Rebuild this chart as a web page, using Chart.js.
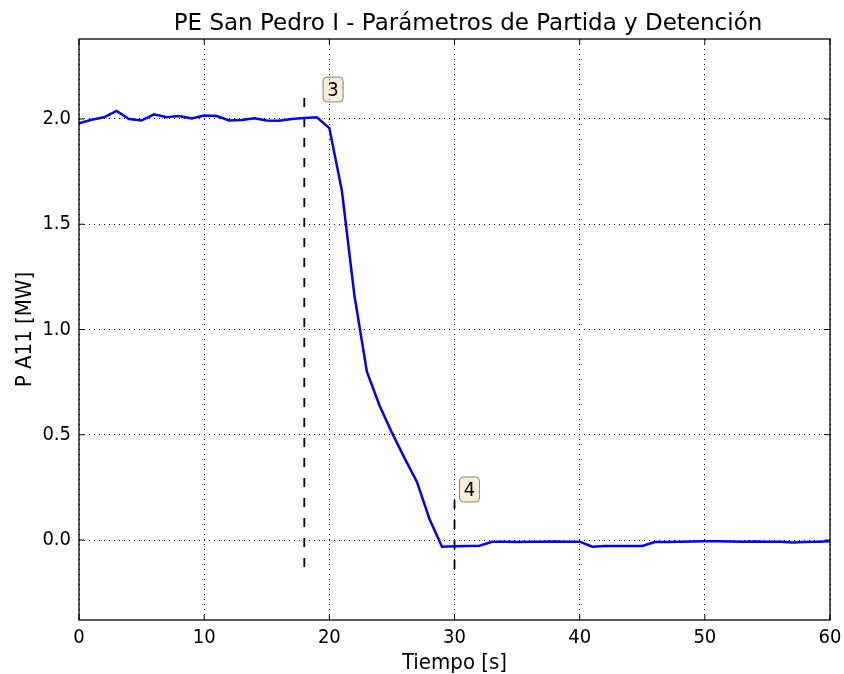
<!DOCTYPE html>
<html>
<head>
<meta charset="utf-8">
<script src="https://cdn.jsdelivr.net/npm/chart.js@4.4.0/dist/chart.umd.min.js"></script>
<style>
  html, body { margin: 0; padding: 0; background: #fff; }
  #wrap { width: 844px; height: 674px; }
</style>
</head>
<body>
<div id="wrap"><canvas id="chart" width="844" height="674"></canvas></div>
<script>
// time in seconds and active power P A11 [MW]
const tiempo = [];
for (let t = 0; t <= 60; t++) tiempo.push(t);
const potencia = [
  1.980, 1.996, 2.008, 2.038, 2.000, 1.993, 2.022, 2.008, 2.014, 2.003,
  2.017, 2.014, 1.993, 1.995, 2.003, 1.993, 1.992, 2.000, 2.005, 2.008,
  1.957, 1.660, 1.164, 0.800, 0.640, 0.510, 0.390, 0.276, 0.100, -0.032,
  -0.030, -0.028, -0.027, -0.008, -0.008, -0.009, -0.008, -0.008, -0.007, -0.008,
  -0.008, -0.032, -0.029, -0.029, -0.028, -0.028, -0.010, -0.009, -0.008, -0.007,
  -0.006, -0.006, -0.007, -0.008, -0.007, -0.008, -0.008, -0.012, -0.010, -0.008,
  -0.006
];

// event markers: vertical dashed lines and their numbered labels
const eventos = ['3', '4'];
const eventoX = [18, 30];
const eventoYTop = [2.10, 0.19];
const eventoYBottom = [-0.15, -0.15];
const etiquetaX = [20.3, 31.2];
const etiquetaY = [2.14, 0.24];

const xTicks = [0, 10, 20, 30, 40, 50, 60];
const yTicks = [0.0, 0.5, 1.0, 1.5, 2.0];
const yMin = -0.38, yMax = 2.38;

const titulo = 'PE San Pedro I - Parámetros de Partida y Detención';

const FONT = '"DejaVu Sans Condensed", "DejaVu Sans", sans-serif';
const TITLE_FONT = '"DejaVu Sans", sans-serif';

const datasets = [{
  label: 'P A11',
  data: tiempo.map((t, i) => ({ x: t, y: potencia[i] })),
  borderColor: '#0000ff',
  borderWidth: 2.5,
  pointRadius: 0,
  tension: 0,
  order: 1
}];
eventos.forEach((ev, i) => {
  datasets.push({
    label: 'evento ' + ev,
    data: [{ x: eventoX[i], y: eventoYTop[i] }, { x: eventoX[i], y: eventoYBottom[i] }],
    borderColor: '#000000',
    borderWidth: 1.8,
    borderDash: [9, 11],
    pointRadius: 0,
    order: 2
  });
});

// frame around the plot area, inward ticks and the title
const framePlugin = {
  id: 'frame',
  afterDraw(chart) {
    const a = chart.chartArea, ctx = chart.ctx;
    ctx.save();
    ctx.strokeStyle = '#000';
    ctx.lineWidth = 1.3;
    ctx.strokeRect(a.left, a.top, a.right - a.left, a.bottom - a.top);
    ctx.lineWidth = 1;
    const xs = chart.scales.x, ys = chart.scales.y;
    xTicks.forEach(v => {
      const px = xs.getPixelForValue(v);
      ctx.beginPath();
      ctx.moveTo(px, a.bottom); ctx.lineTo(px, a.bottom - 5);
      ctx.moveTo(px, a.top); ctx.lineTo(px, a.top + 5);
      ctx.stroke();
    });
    yTicks.forEach(v => {
      const py = ys.getPixelForValue(v);
      ctx.beginPath();
      ctx.moveTo(a.left, py); ctx.lineTo(a.left + 5, py);
      ctx.moveTo(a.right, py); ctx.lineTo(a.right - 5, py);
      ctx.stroke();
    });
    ctx.fillStyle = '#000';
    ctx.font = '23px ' + TITLE_FONT;
    ctx.textAlign = 'center';
    ctx.textBaseline = 'alphabetic';
    ctx.fillText(titulo, 468, 30);
    ctx.restore();
  }
};

// rounded wheat boxes with the event numbers
const labelPlugin = {
  id: 'eventLabels',
  afterDraw(chart) {
    const ctx = chart.ctx, xs = chart.scales.x, ys = chart.scales.y;
    ctx.save();
    ctx.font = '20px ' + FONT;
    ctx.textAlign = 'center';
    ctx.textBaseline = 'middle';
    eventos.forEach((ev, i) => {
      const cx = xs.getPixelForValue(etiquetaX[i]);
      const cy = ys.getPixelForValue(etiquetaY[i]);
      const w = 20, h = 25;
      ctx.beginPath();
      ctx.roundRect(cx - w / 2, cy - h / 2, w, h, 4);
      ctx.fillStyle = 'rgba(245, 222, 179, 0.5)';
      ctx.fill();
      ctx.strokeStyle = 'rgba(110, 100, 90, 0.8)';
      ctx.lineWidth = 1;
      ctx.stroke();
      ctx.fillStyle = '#000';
      ctx.fillText(ev, cx, cy + 1);
    });
    ctx.restore();
  }
};

new Chart(document.getElementById('chart').getContext('2d'), {
  type: 'line',
  data: { datasets: datasets },
  plugins: [framePlugin, labelPlugin],
  options: {
    responsive: false,
    animation: false,
    layout: { padding: { left: 0, right: 14, top: 39, bottom: 0 } },
    plugins: {
      legend: { display: false },
      tooltip: { enabled: false },
      title: { display: false }
    },
    scales: {
      x: {
        type: 'linear',
        min: 0, max: 60,
        afterBuildTicks(scale) { scale.ticks = xTicks.map(v => ({ value: v })); },
        afterFit(scale) { scale.height = 54; scale.paddingLeft = 0; scale.paddingRight = 0; },
        border: { display: false, dash: [1, 4] },
        grid: { color: '#000', lineWidth: 1, drawTicks: false },
        ticks: { color: '#000', font: { family: FONT, size: 20 }, padding: 6, maxRotation: 0 },
        title: { display: true, text: 'Tiempo [s]', color: '#000', font: { family: FONT, size: 22, lineHeight: 1.0 }, padding: { top: 0, bottom: 0 } }
      },
      y: {
        type: 'linear',
        min: yMin, max: yMax,
        afterBuildTicks(scale) { scale.ticks = yTicks.map(v => ({ value: v })); },
        afterFit(scale) { scale.width = 79; scale.paddingTop = 0; scale.paddingBottom = 0; },
        border: { display: false, dash: [1, 4] },
        grid: { color: '#000', lineWidth: 1, drawTicks: false },
        ticks: { color: '#000', font: { family: FONT, size: 20 }, padding: 8, callback: v => v.toFixed(1) },
        title: { display: true, text: 'P A11 [MW]', color: '#000', font: { family: FONT, size: 22, lineHeight: 1.0 }, padding: { top: 14, bottom: 0 } }
      }
    }
  }
});
</script>
</body>
</html>
